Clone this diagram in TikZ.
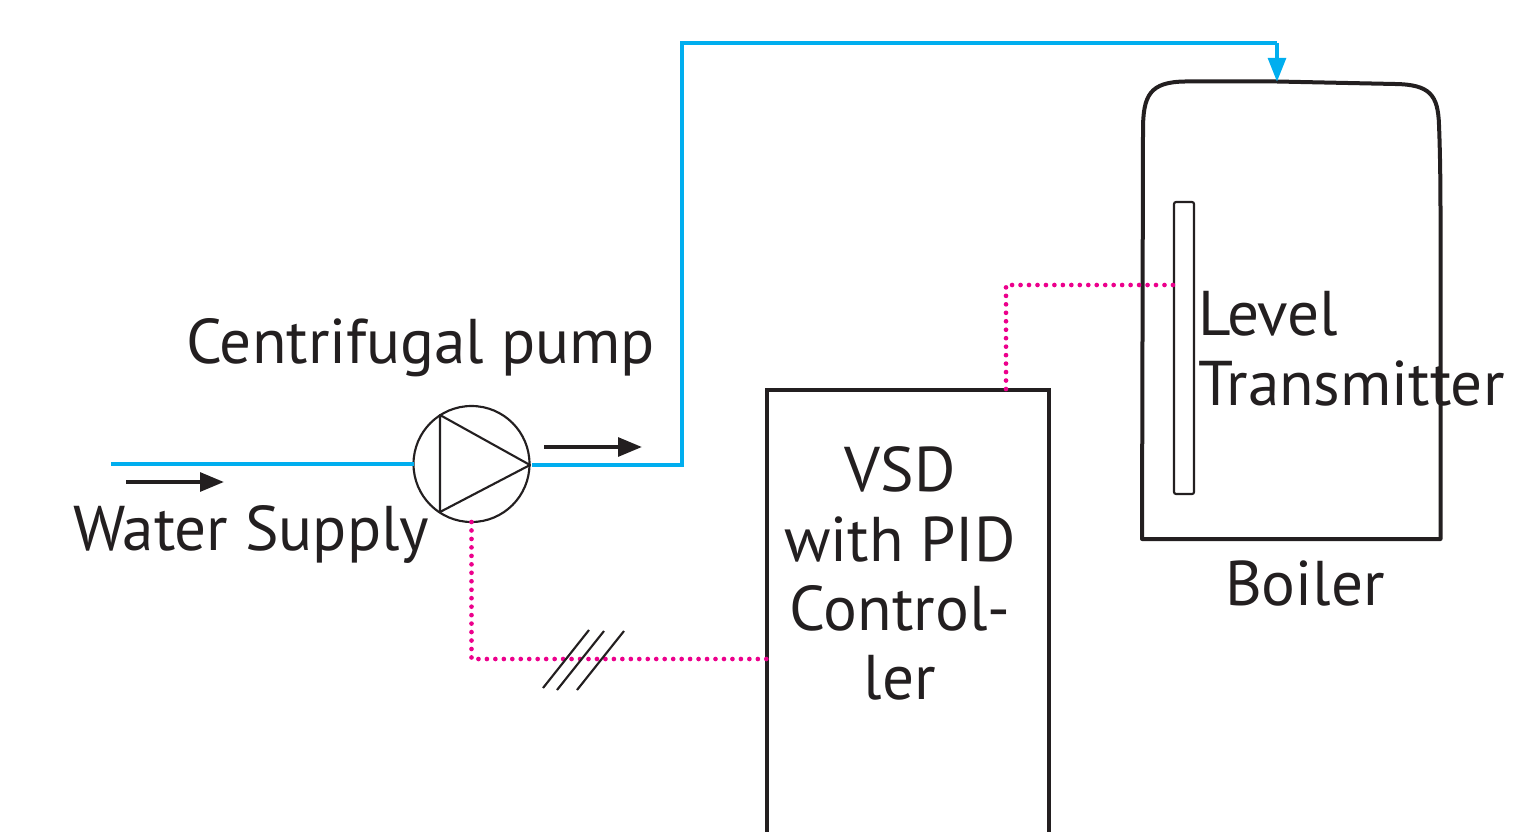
\documentclass[tikz,border=0pt]{standalone}
\usepackage{fontspec}
\setmainfont{PT Sans}
\usetikzlibrary{arrows.meta,calc}
\definecolor{ink}{HTML}{231F20}
\definecolor{pipe}{HTML}{00AEEF}
\definecolor{signal}{HTML}{EC008C}
\tikzset{
  x=0.75pt,y=-0.75pt,
  label text/.style={inner sep=0pt,outer sep=0pt,text=ink,font=\fontsize{47.4}{50}\selectfont,anchor=base west},
  center text/.style={label text,anchor=base},
  pipeline/.style={draw=pipe,line width=3.7pt,line join=miter},
  signalline/.style={draw=signal,line width=3.5pt,line cap=round,dash pattern=on 0pt off 6.35pt},
  flow/.style={draw=ink,line width=3pt,-{Triangle[length=18pt,width=14pt]}},
  thin ink/.style={draw=ink,line width=1.6pt},
  heavy ink/.style={draw=ink,line width=3pt},
}
\begin{document}
\begin{tikzpicture}
\useasboundingbox (0,0) rectangle (1530,831);
\clip (0,0) rectangle (1530,831);
% pump
\node[circle,thin ink,minimum size=87pt,inner sep=0pt,outer sep=0pt] (pump) at (471.5,464) {};
\coordinate (inlet) at (111,464);
\coordinate (pumpout) at (532,465);
\coordinate (corner1) at (682,465);
\coordinate (corner2) at (682,43);
\coordinate (corner3) at (1277,43);
\coordinate (boilertop) at (1277,82);
\draw[thin ink,line join=round] (440,415) -- (440,512) -- (530,465) -- cycle;
% boiler
\draw[heavy ink,line join=round] (1143,130) .. controls (1143,95) and (1150,82) .. (1185,81.5)
  -- (1277,81.5) -- (1395,84) .. controls (1430,84.5) and (1438,95) .. (1439,125)
  .. controls (1440,150) and (1440.5,180) .. (1440.5,220) -- (1440.5,539) -- (1142,539) -- cycle;
\node[draw=ink,line width=1.6pt,rounded corners=1.5pt,minimum width=15pt,minimum height=219pt,inner sep=0pt,outer sep=0pt] (sensor) at (1184,348) {};
% VSD
\node[heavy ink,draw,minimum width=211.5pt,minimum height=360pt,inner sep=0pt,outer sep=0pt,anchor=north west] (vsd) at (767,389.5) {};
\coordinate (vsdin) at (767,659);
\coordinate (vsdtop) at (1006,389);
\coordinate (sensorin) at (1174,285);
% pipes
\draw[pipeline] (inlet) -- (pump.west);
\draw[pipeline] (pumpout) -- (corner1) -- (corner2) -- (corner3);
\draw[draw=pipe,line width=3.4pt,-{Triangle[length=18pt,width=13pt]}] (corner3) -- (boilertop);
% signal
\draw[signalline] (pump.south) -- (pump.south|-vsdin) -- (vsdin);
\draw[signalline] (vsdtop) -- (vsdtop|-sensorin) -- (sensorin);
% hatch
\coordinate (h1a) at (543,688); \coordinate (h1b) at (589,630);
\coordinate (h2a) at (557,690); \coordinate (h2b) at (604,631);
\coordinate (h3a) at (577,690); \coordinate (h3b) at (624,631);
\draw[thin ink] (h1a) -- (h1b);
\draw[thin ink] (h2a) -- (h2b);
\draw[thin ink] (h3a) -- (h3b);
% flow arrows
\coordinate (f1a) at (544,447); \coordinate (f1b) at (642,447);
\coordinate (f2a) at (126,482); \coordinate (f2b) at (224,482);
\draw[flow] (f1a) -- (f1b);
\draw[flow] (f2a) -- (f2b);
% labels
\node[label text] (tpump) at (186,363) {Centrifugal pump};
\node[label text] (tsupply) at (73,550) {Water Supply};
\node[center text] (t1) at (900,491) {VSD};
\node[center text] (t2) at (900,561) {with PID};
\node[center text] (t3) at (900,630) {Control-};
\node[center text] (t4) at (900,699) {ler};
\node[label text] (tlevel) at (1198,335) {Level};
\node[label text] (ttrans) at (1198,405) {Transmitter};
\node[label text] (tboiler) at (1225,605) {Boiler};
\end{tikzpicture}
\end{document}
